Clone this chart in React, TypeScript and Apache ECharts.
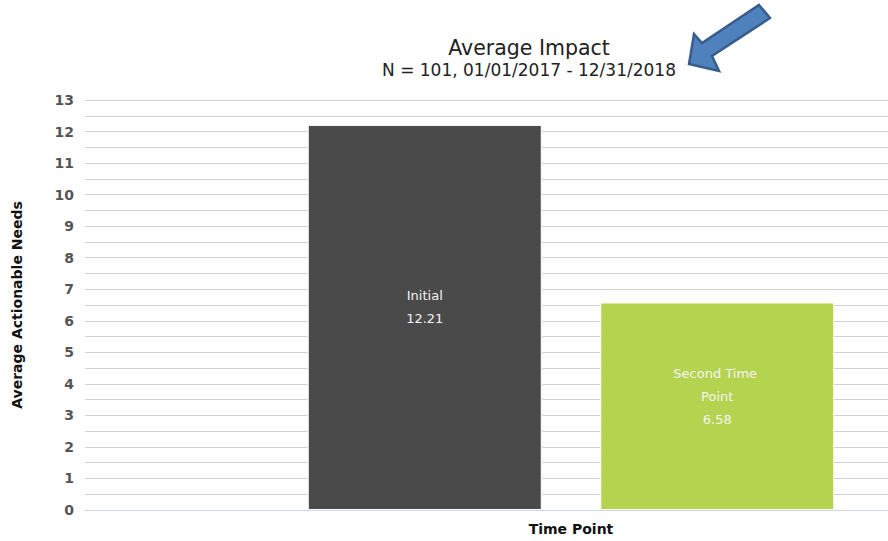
import React, { useEffect, useRef } from 'react';
import * as echarts from 'echarts';

// Bar series: one bar per time point, all in the single "Time Point" category
const seriesNames = ['Initial', 'Second Time Point'];
const seriesValues = [12.21, 6.58];
const seriesColors = ['#4a4a4a', '#b4d34f'];
const categories = ['Time Point'];

const titleText = 'Average Impact';
const subtitleText = 'N = 101, 01/01/2017 - 12/31/2018';
const yAxisName = 'Average Actionable Needs';
const xAxisName = 'Time Point';

const yMin = 0;
const yMax = 13;
const yStep = 0.5;

const FONT = '"DejaVu Sans", Verdana, sans-serif';

export default function App() {
  const ref = useRef<HTMLDivElement>(null);

  useEffect(() => {
    if (!ref.current) return;
    const chart = echarts.init(ref.current, undefined, { renderer: 'svg' });

    const series = seriesNames.map((name, i) => ({
      name,
      type: 'bar',
      data: [seriesValues[i]],
      barWidth: 234,
      barGap: '25%',
      itemStyle: { color: seriesColors[i], borderColor: '#ffffff', borderWidth: 1 },
      label: {
        show: true,
        position: 'inside',
        offset: [0, -10],
        formatter: '{a}\n{c}',
        color: '#f4f4f4',
        fontFamily: FONT,
        fontSize: 13,
        lineHeight: 23,
        width: 110,
        overflow: 'break',
        align: 'center',
      },
    }));

    chart.setOption({
      animation: false,
      backgroundColor: '#ffffff',
      title: {
        text: titleText,
        subtext: subtitleText,
        left: 'center',
        top: 31,
        itemGap: 0,
        textStyle: { fontFamily: FONT, fontSize: 20.5, fontWeight: 'normal', color: '#222', lineHeight: 24 },
        subtextStyle: { fontFamily: FONT, fontSize: 17, color: '#222', lineHeight: 20 },
      },
      grid: { left: 85, right: 1, top: 100, bottom: 26, containLabel: false },
      xAxis: {
        type: 'category',
        data: categories,
        name: xAxisName,
        nameLocation: 'middle',
        nameGap: 12,
        nameTextStyle: { fontFamily: FONT, fontSize: 14, fontWeight: 'bold', color: '#111' },
        axisLine: { show: true, lineStyle: { color: '#ccd6eb', width: 1 } },
        axisTick: { show: false },
        axisLabel: { show: false },
        splitLine: { show: false },
      },
      yAxis: {
        type: 'value',
        min: yMin,
        max: yMax,
        interval: yStep,
        name: yAxisName,
        nameLocation: 'middle',
        nameGap: 61,
        nameTextStyle: { fontFamily: FONT, fontSize: 14, fontWeight: 'bold', color: '#111' },
        axisLine: { show: false },
        axisTick: { show: false },
        axisLabel: {
          fontFamily: FONT,
          fontSize: 14,
          fontWeight: 'bold',
          color: '#555',
          margin: 11,
          formatter: (v: number) => (Number.isInteger(v) ? String(v) : ''),
        },
        splitLine: { show: true, lineStyle: { color: '#d2d2d2', width: 1 } },
      },
      graphic: [
        {
          type: 'polygon',
          z: 100,
          shape: {
            points: [
              [759, 5],
              [770, 18],
              [712, 56],
              [719, 71],
              [689, 64],
              [694, 34],
              [702, 43],
            ],
          },
          style: { fill: '#4f81bd', stroke: '#385d8a', lineWidth: 2.5, lineJoin: 'miter' },
        },
      ],
      series,
    });

    return () => chart.dispose();
  }, []);

  return (
    <div style={{ position: 'fixed', left: 0, top: 0, width: 888, height: 541, overflow: 'hidden', background: '#fff' }}>
      <div ref={ref} style={{ width: 1058, height: 541 }} />
    </div>
  );
}
